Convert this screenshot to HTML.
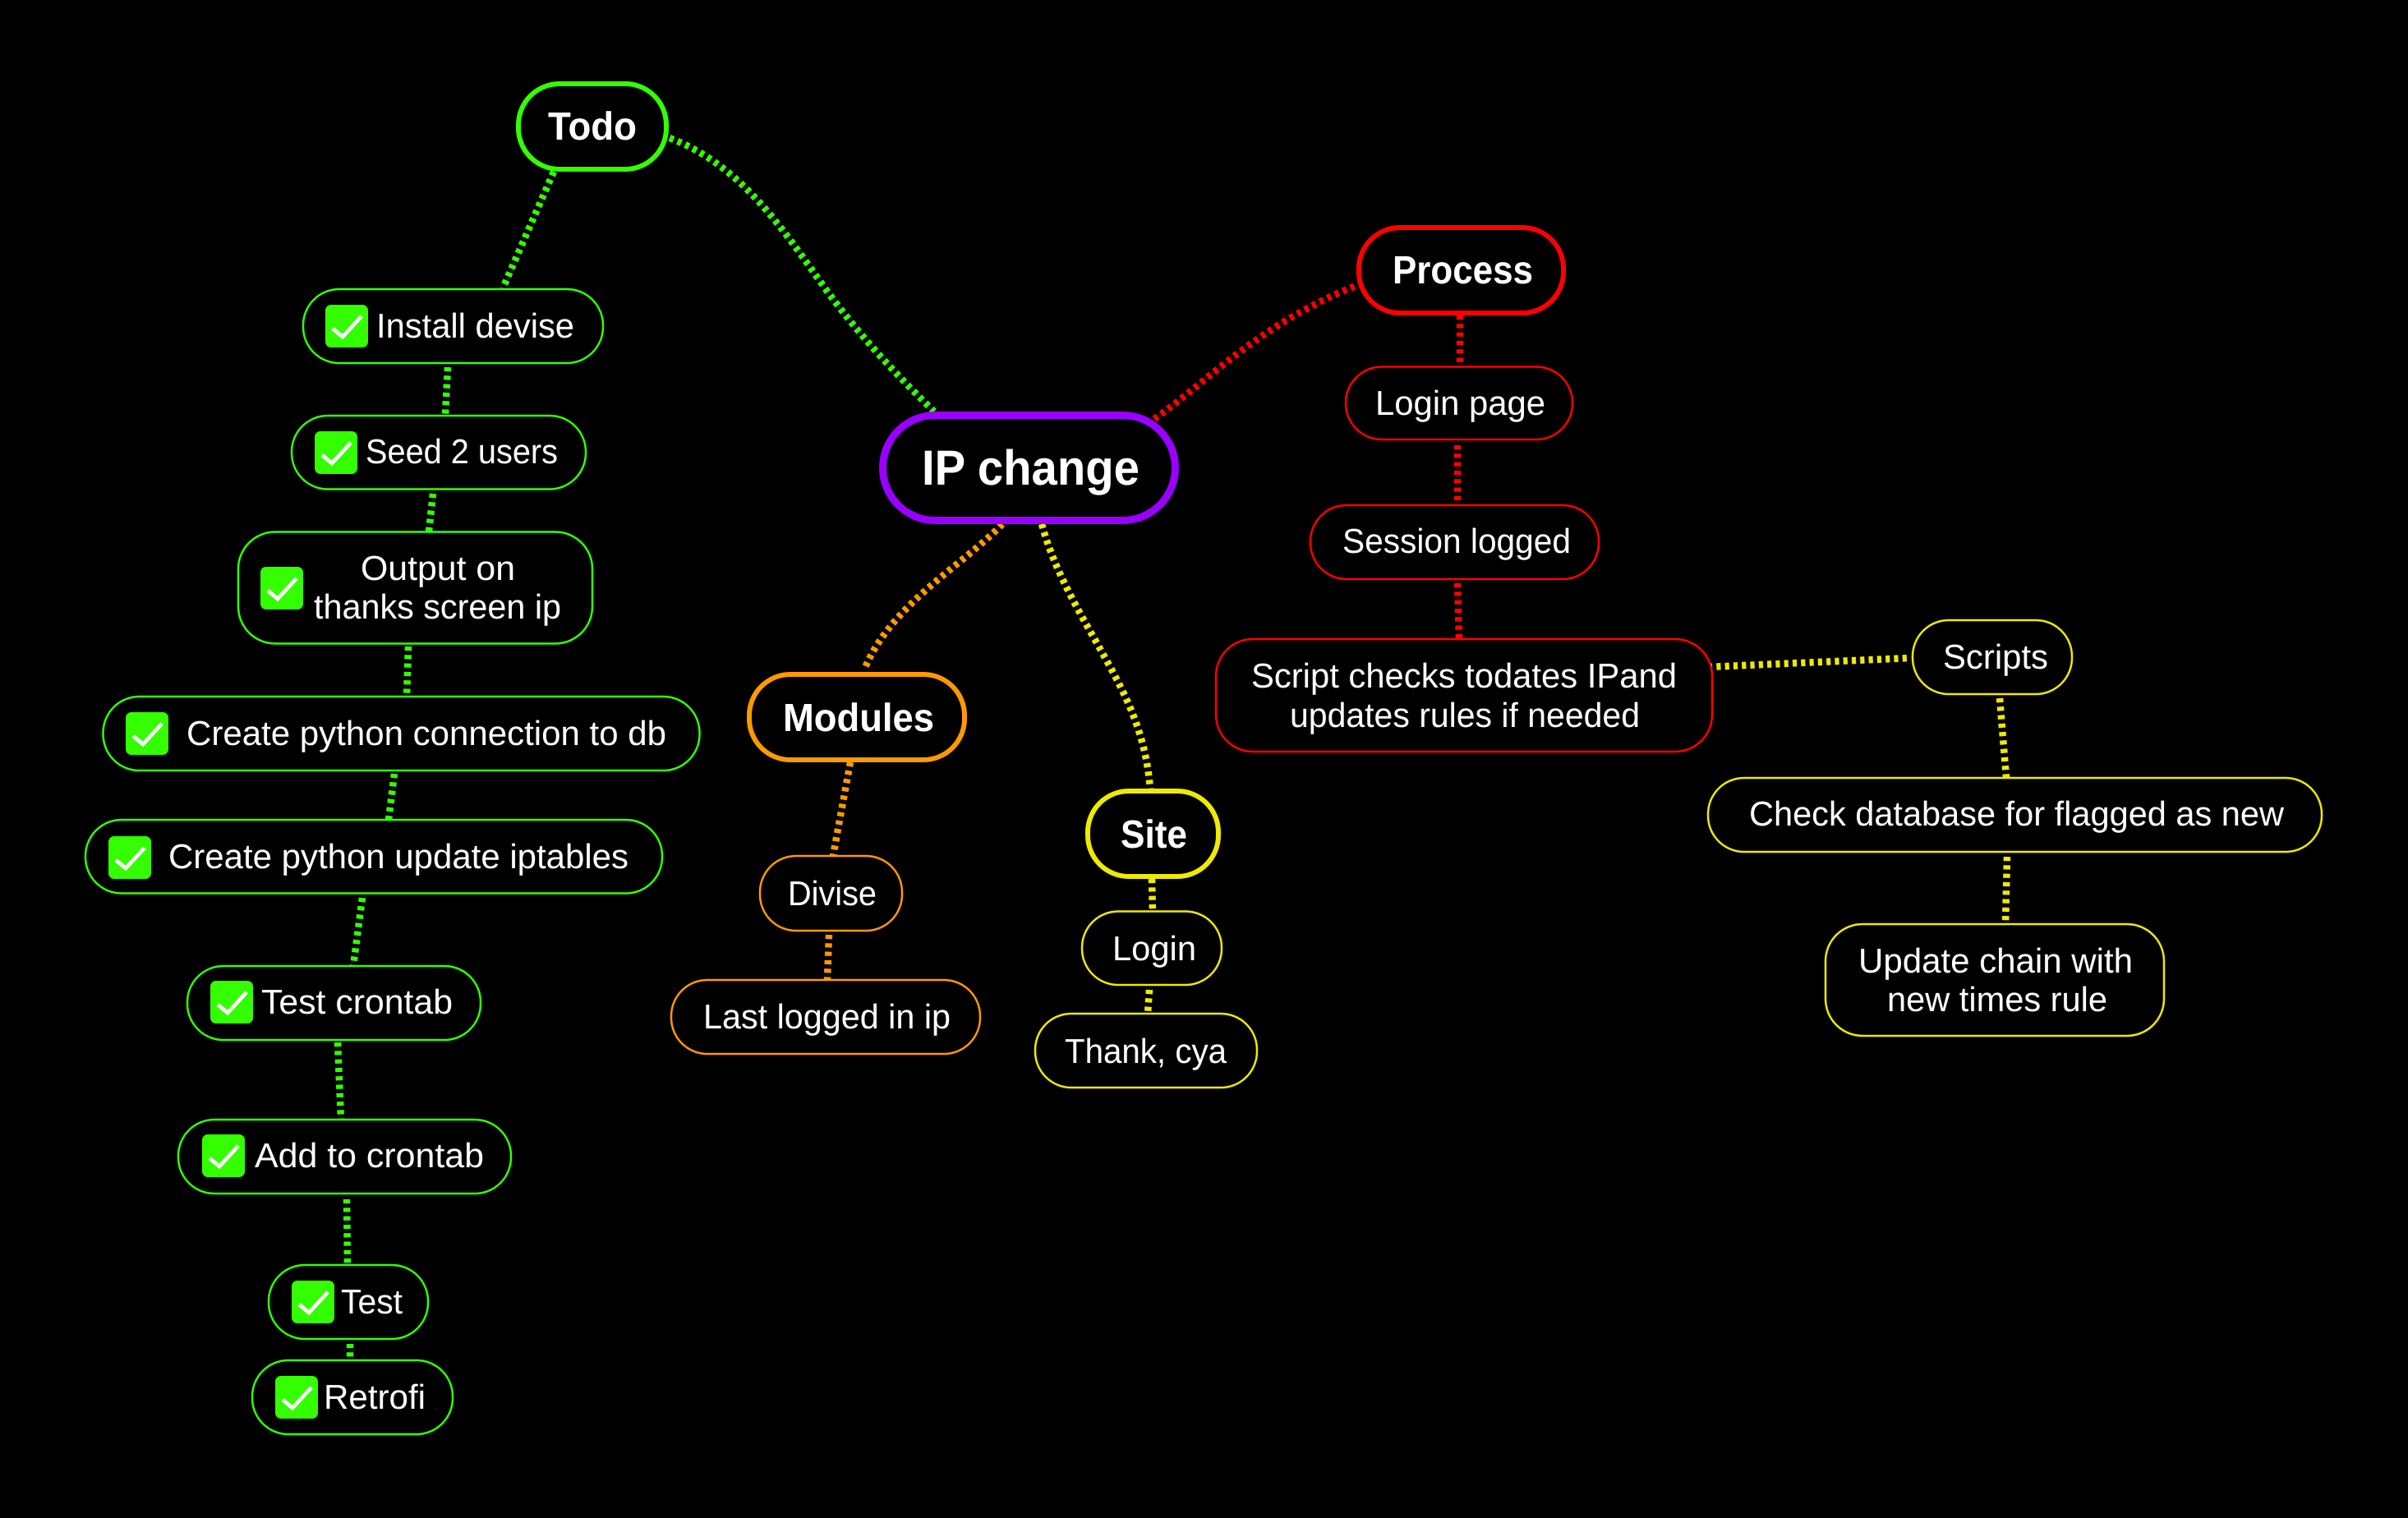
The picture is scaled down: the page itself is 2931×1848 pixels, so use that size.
<!DOCTYPE html>
<html>
<head>
<meta charset="utf-8">
<title>IP change</title>
<style>
html,body{margin:0;padding:0;background:#000;width:2931px;height:1848px;overflow:hidden}
svg{display:block}
text{font-family:"Liberation Sans",sans-serif;fill:#fff;text-rendering:geometricPrecision}
.r{font-size:42px}
.b{font-size:48px;font-weight:bold}
.c{fill:none;stroke-width:8.5;stroke-dasharray:5.2 5.1}
.n{fill:#000}
.t{stroke-width:2.5}
.k{stroke-width:6}
.g{stroke:#33ff00}.y{stroke:#eeea00}.o{stroke:#ff9900}.d{stroke:#ff0000}
.x{fill:#33ff00}
.v{fill:none;stroke:#fff;stroke-width:4.8}
</style>
</head>
<body>
<svg xmlns="http://www.w3.org/2000/svg" width="2931" height="1848" viewBox="0 0 2931 1848">
<rect width="2931" height="1848" fill="#000"/>

<path class="c g" d="M815 168C900 200 950 275 1000 345C1045 408 1090 455 1137 501"/>
<path class="c d" d="M1405 510C1470 465 1530 395 1655 346"/>
<path class="c o" d="M1220 638C1170 690 1085 735 1052 815"/>
<path class="c y" d="M1268 638C1290 720 1345 790 1375 860C1390 895 1398 930 1400 962"/>
<path class="c g" d="M674 209L612 351"/>
<path class="c g" d="M545 447L542 505"/>
<path class="c g" d="M527 601L522 647"/>
<path class="c g" d="M497 787L495 849"/>
<path class="c g" d="M480 942L473 998"/>
<path class="c g" d="M441 1093L430 1176"/>
<path class="c g" d="M411 1269L415 1363"/>
<path class="c g" d="M422 1460L423 1540"/>
<path class="c g" d="M426 1636L426 1656"/>
<path class="c d" d="M1777 384L1777 447"/>
<path class="c d" d="M1774 542L1774 615"/>
<path class="c d" d="M1774 710L1776 778"/>
<path class="c o" d="M1035 928L1014 1042"/>
<path class="c o" d="M1009 1138L1007 1193"/>
<path class="c y" d="M1402 1070L1403 1110"/>
<path class="c y" d="M1399 1205L1397 1234"/>
<path class="c y" d="M2079 812L2325 801"/>
<path class="c y" d="M2434 850L2442 947"/>
<path class="c y" d="M2443 1043L2441 1125"/>

<rect class="n" x="1074.500" y="505.500" width="356" height="128" rx="64" stroke="#9900ff" stroke-width="9"/>
<rect class="n k g" x="631" y="102" width="180" height="104" rx="50"/>
<rect class="n k d" x="1654" y="277" width="249" height="104" rx="50"/>
<rect class="n k o" x="912" y="821" width="262" height="104" rx="50"/>
<rect class="n k y" x="1324" y="963" width="159" height="104" rx="50"/>

<rect class="n t g" x="369" y="352" width="365" height="90" rx="44"/>
<rect class="n t g" x="355" y="506" width="358" height="89.500" rx="44"/>
<rect class="n t g" x="290" y="647.500" width="431" height="136" rx="45"/>
<rect class="n t g" x="125.500" y="848" width="726" height="90" rx="44"/>
<rect class="n t g" x="104" y="998" width="702" height="89.500" rx="44"/>
<rect class="n t g" x="228" y="1176" width="357" height="90" rx="44"/>
<rect class="n t g" x="217" y="1363" width="405" height="90" rx="44"/>
<rect class="n t g" x="327" y="1540" width="194" height="90" rx="44"/>
<rect class="n t g" x="307" y="1656" width="244" height="90" rx="44"/>

<rect class="n t d" x="1638" y="446.500" width="276" height="88.500" rx="44"/>
<rect class="n t d" x="1595" y="615" width="351" height="90" rx="44"/>
<rect class="n t d" x="1480" y="778" width="604" height="137" rx="45"/>

<rect class="n t y" x="2328" y="755" width="194" height="90" rx="44"/>
<rect class="n t y" x="2079" y="947" width="747" height="90" rx="44"/>
<rect class="n t y" x="2222" y="1125" width="412" height="136" rx="45"/>
<rect class="n t y" x="1317" y="1109.500" width="170" height="89.500" rx="44"/>
<rect class="n t y" x="1260" y="1234" width="270" height="90" rx="44"/>

<rect class="n t o" x="925" y="1042" width="173" height="91" rx="44"/>
<rect class="n t o" x="817" y="1193" width="376" height="90" rx="44"/>

<rect class="x" x="396" y="371" width="52" height="52" rx="7"/><polyline class="v" points="405,400 417,410 440,385"/>
<rect class="x" x="383" y="525" width="52" height="52" rx="7"/><polyline class="v" points="392,554 404,564 427,539"/>
<rect class="x" x="317" y="690" width="52" height="52" rx="7"/><polyline class="v" points="326,719 338,729 361,704"/>
<rect class="x" x="153" y="867" width="52" height="52" rx="7"/><polyline class="v" points="162,896 174,906 197,881"/>
<rect class="x" x="132" y="1018" width="52" height="52" rx="7"/><polyline class="v" points="141,1047 153,1057 176,1032"/>
<rect class="x" x="256" y="1194" width="52" height="52" rx="7"/><polyline class="v" points="265,1223 277,1233 300,1208"/>
<rect class="x" x="246" y="1381" width="52" height="52" rx="7"/><polyline class="v" points="255,1410 267,1420 290,1395"/>
<rect class="x" x="355" y="1559" width="52" height="52" rx="7"/><polyline class="v" points="364,1588 376,1598 399,1573"/>
<rect class="x" x="335" y="1675" width="52" height="52" rx="7"/><polyline class="v" points="344,1704 356,1714 379,1689"/>

<text x="1122" y="590" font-size="60" font-weight="bold" textLength="265" lengthAdjust="spacingAndGlyphs">IP change</text>
<text class="b" x="667" y="170" textLength="108" lengthAdjust="spacingAndGlyphs">Todo</text>
<text class="b" x="1695" y="345" textLength="171" lengthAdjust="spacingAndGlyphs">Process</text>
<text class="b" x="953" y="890" textLength="184" lengthAdjust="spacingAndGlyphs">Modules</text>
<text class="b" x="1364" y="1032" textLength="81" lengthAdjust="spacingAndGlyphs">Site</text>

<text class="r" x="458" y="411" textLength="241" lengthAdjust="spacingAndGlyphs">Install devise</text>
<text class="r" x="445" y="564" textLength="234" lengthAdjust="spacingAndGlyphs">Seed 2 users</text>
<text class="r" x="439" y="706" textLength="188" lengthAdjust="spacingAndGlyphs">Output on</text>
<text class="r" x="382" y="753" textLength="301" lengthAdjust="spacingAndGlyphs">thanks screen ip</text>
<text class="r" x="227" y="907" textLength="584" lengthAdjust="spacingAndGlyphs">Create python connection to db</text>
<text class="r" x="205" y="1057" textLength="560" lengthAdjust="spacingAndGlyphs">Create python update iptables</text>
<text class="r" x="318" y="1234" textLength="233" lengthAdjust="spacingAndGlyphs">Test crontab</text>
<text class="r" x="310" y="1421" textLength="279" lengthAdjust="spacingAndGlyphs">Add to crontab</text>
<text class="r" x="415" y="1599" textLength="75" lengthAdjust="spacingAndGlyphs">Test</text>
<text class="r" x="394" y="1715" textLength="124" lengthAdjust="spacingAndGlyphs">Retrofi</text>

<text class="r" x="1674" y="505" textLength="207" lengthAdjust="spacingAndGlyphs">Login page</text>
<text class="r" x="1634" y="673" textLength="278" lengthAdjust="spacingAndGlyphs">Session logged</text>
<text class="r" x="1523" y="837" textLength="518" lengthAdjust="spacingAndGlyphs">Script checks todates IPand</text>
<text class="r" x="1570" y="885" textLength="426" lengthAdjust="spacingAndGlyphs">updates rules if needed</text>

<text class="r" x="2365" y="814" textLength="128" lengthAdjust="spacingAndGlyphs">Scripts</text>
<text class="r" x="2129" y="1005" textLength="651" lengthAdjust="spacingAndGlyphs">Check database for flagged as new</text>
<text class="r" x="2262" y="1184" textLength="334" lengthAdjust="spacingAndGlyphs">Update chain with</text>
<text class="r" x="2297" y="1231" textLength="268" lengthAdjust="spacingAndGlyphs">new times rule</text>

<text class="r" x="959" y="1102" textLength="108" lengthAdjust="spacingAndGlyphs">Divise</text>
<text class="r" x="856" y="1252" textLength="301" lengthAdjust="spacingAndGlyphs">Last logged in ip</text>
<text class="r" x="1354" y="1169" textLength="102" lengthAdjust="spacingAndGlyphs">Login</text>
<text class="r" x="1296" y="1294" textLength="197" lengthAdjust="spacingAndGlyphs">Thank, cya</text>
</svg>
</body>
</html>
